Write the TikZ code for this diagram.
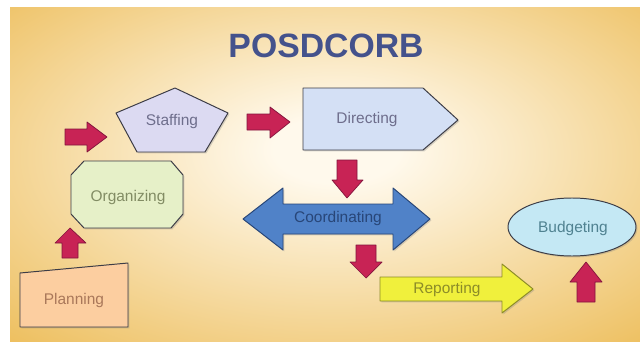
\documentclass[tikz,border=0pt]{standalone}
\usepackage{fontspec}
\setmainfont{Liberation Sans}
\usetikzlibrary{shadows}
\definecolor{glowin}{RGB}{255,249,236}
\definecolor{glowout}{RGB}{237,190,92}
\definecolor{arrowred}{RGB}{200,35,85}
\definecolor{arrowedge}{RGB}{130,20,60}
\definecolor{titleblue}{RGB}{68,82,140}
\definecolor{boxedge}{RGB}{60,60,70}
\definecolor{pentfill}{RGB}{220,218,242}
\definecolor{dirfill}{RGB}{212,224,245}
\definecolor{orgfill}{RGB}{230,240,200}
\definecolor{planfill}{RGB}{252,206,160}
\definecolor{coordfill}{RGB}{80,130,200}
\definecolor{coordedge}{RGB}{40,70,120}
\definecolor{repfill}{RGB}{240,240,60}
\definecolor{repedge}{RGB}{140,140,40}
\definecolor{budfill}{RGB}{196,232,244}
\definecolor{labelgray}{RGB}{110,110,140}
\definecolor{plantext}{RGB}{170,120,90}
\definecolor{orgtext}{RGB}{130,140,100}
\definecolor{budtext}{RGB}{80,130,145}
\pgfdeclareradialshading{bgglow}{\pgfpoint{1bp}{4bp}}{color(0bp)=(glowin); color(5bp)=(glowin); color(38bp)=(glowout); color(75bp)=(glowout)}
\begin{document}
\begin{tikzpicture}[x=0.025cm,y=-0.025cm,line join=round,
	redarrow/.style={fill=arrowred,draw=arrowedge,line width=0.5pt},
	box/.style={draw=boxedge,line width=0.7pt,drop shadow={shadow xshift=1pt,shadow yshift=-1pt,opacity=0.3}},
	lbl/.style={font=\fontsize{11}{11}\selectfont,text=#1},lbl/.default=labelgray]
		\useasboundingbox (0,0) rectangle (640,342);
		\fill[white] (0,0) rectangle (640,342);
		\shade[shading=bgglow] (10,7) rectangle (640,342);
		\node[font=\fontsize{24}{24}\selectfont\bfseries,text=titleblue] (title) at (326,46) {POSDCORB};
		\filldraw[box,fill=planfill] (20,273)--(128,263)--(128,327)--(20,327)--cycle;
		\node[lbl=plantext] (planning) at (74,300) {Planning};
		\filldraw[box,fill=orgfill] (84,161)--(171,161)--(183,175)--(183,214)--(171,228)--(84,228)--(71,214)--(71,175)--cycle;
		\node[lbl=orgtext] (organizing) at (128,197) {Organizing};
		\filldraw[box,fill=pentfill] (175,88)--(228,113)--(205,152)--(137,152)--(116,113)--cycle;
		\node[lbl] (staffing) at (172,122) {Staffing};
		\filldraw[box,fill=dirfill] (303,88)--(423,88)--(458,120)--(423,150)--(303,150)--cycle;
		\node[lbl] (directing) at (367,119) {Directing};
		\filldraw[box,draw=coordedge,fill=coordfill] (243,219)--(283,188)--(283,204)--(393,204)--(393,188)--(430,219)--(393,250)--(393,234)--(283,234)--(283,250)--cycle;
		\node[lbl=coordedge] (coordinating) at (338,219) {Coordinating};
		\filldraw[box,draw=repedge,fill=repfill] (380,277)--(502,277)--(502,264)--(533,289)--(502,313)--(502,301)--(380,301)--cycle;
		\node[lbl=repedge] (reporting) at (447,289) {Reporting};
		\filldraw[box,fill=budfill] (572,227) ellipse [x radius=64,y radius=29];
		\node[lbl=budtext] (budgeting) at (573,228) {Budgeting};
		\filldraw[redarrow] (65,129)--(87,129)--(87,122)--(107,137)--(87,152)--(87,145)--(65,145)--cycle;
		\filldraw[redarrow] (247,114)--(270,114)--(270,107)--(290,122)--(270,138)--(270,130)--(247,130)--cycle;
		\filldraw[redarrow] (62,258)--(62,243)--(55,243)--(70,228)--(86,243)--(78,243)--(78,258)--cycle;
		\filldraw[redarrow] (337,160)--(357,160)--(357,180)--(363,180)--(347,198)--(332,180)--(337,180)--cycle;
		\filldraw[redarrow] (356,245)--(376,245)--(376,262)--(382,262)--(366,278)--(350,262)--(356,262)--cycle;
		\filldraw[redarrow] (577,302)--(577,282)--(570,282)--(586,262)--(602,282)--(595,282)--(595,302)--cycle;
\end{tikzpicture}
\end{document}
